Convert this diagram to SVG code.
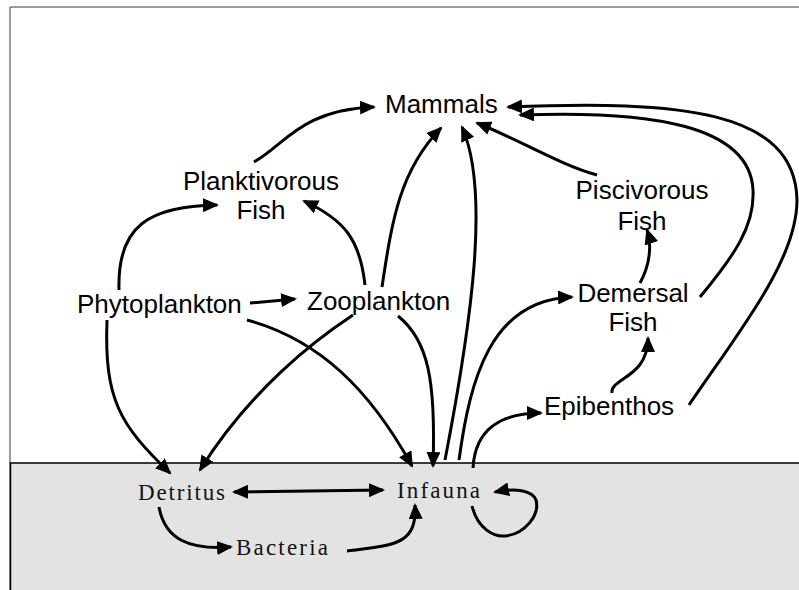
<svg xmlns="http://www.w3.org/2000/svg" width="799" height="590" viewBox="0 0 799 590">
<style>
.lbl{font-family:"Liberation Sans",Arial,sans-serif;font-size:26px;fill:#000}
.ben{font-family:"Liberation Serif","Times New Roman",serif;font-size:23px;fill:#111}
.c{fill:none;stroke:#000;stroke-width:3}
</style>
<defs>
<marker id="ah" markerUnits="userSpaceOnUse" markerWidth="16" markerHeight="14" viewBox="0 0 16 14" refX="14" refY="7" orient="auto-start-reverse">
<path d="M0,0 L16,7 L0,14 z" fill="#000"/>
</marker>
</defs>
<rect x="0" y="0" width="799" height="590" fill="#fff"/>
<g id="frame">
<line x1="10" y1="7" x2="799" y2="7" stroke="#7a7a7a" stroke-width="1.5"/>
<line x1="10" y1="7" x2="10" y2="590" stroke="#7a7a7a" stroke-width="1.5"/>
<rect x="10.5" y="463" width="790" height="130" fill="#e3e3e3" stroke="#000" stroke-width="1.5"/>
</g>
<g id="connectors">
<path class="c" marker-end="url(#ah)" d="M254,162 C285,145 300,110 374,107"/>
<path class="c" marker-end="url(#ah)" d="M119,290 C117,225 150,206 217,205"/>
<path class="c" marker-end="url(#ah)" d="M365,285 C360,240 345,220 304,201"/>
<path class="c" marker-end="url(#ah)" d="M382,287 C392,220 400,170 441,128"/>
<path class="c" marker-end="url(#ah)" d="M445,460 C472,320 490,190 462,127"/>
<path class="c" marker-end="url(#ah)" d="M597,175 C560,165 520,140 477,123"/>
<path class="c" marker-end="url(#ah)" d="M700,297 C735,255 755,225 753,190 C750,125 650,110 520,115"/>
<path class="c" marker-end="url(#ah)" d="M689,405 C740,330 797,260 797,200 C795,110 680,100 508,107"/>
<path class="c" marker-end="url(#ah)" d="M640,283 C650,265 652,245 647,230"/>
<path class="c" marker-end="url(#ah)" d="M612,393 C610,378 648,378 648,338"/>
<path class="c" marker-end="url(#ah)" d="M250,303 L295,299"/>
<path class="c" marker-end="url(#ah)" d="M247,320 C320,340 370,390 412,466"/>
<path class="c" marker-end="url(#ah)" d="M353,315 C315,340 250,390 200,470"/>
<path class="c" marker-end="url(#ah)" d="M398,316 C428,340 436,380 433,466"/>
<path class="c" marker-end="url(#ah)" d="M107,320 C104,400 120,425 170,473"/>
<path class="c" marker-start="url(#ah)" marker-end="url(#ah)" d="M234,492 L383,490"/>
<path class="c" marker-end="url(#ah)" d="M159,507 C165,540 190,550 231,547"/>
<path class="c" marker-end="url(#ah)" d="M347,551 C395,545 417,545 415,505"/>
<path class="c" marker-end="url(#ah)" d="M459,460 C470,380 490,300 572,297"/>
<path class="c" marker-end="url(#ah)" d="M473,468 C475,430 500,413 541,413"/>
<path class="c" marker-end="url(#ah)" d="M472,506 C478,530 495,537 505,536 C525,534 540,515 536,500 C532,490 515,488 495,492"/>
</g>
<g id="mammals"><text class="lbl" x="385" y="113">Mammals</text></g>
<g id="planktivorous"><text class="lbl" x="261" y="190" text-anchor="middle">Planktivorous</text><text class="lbl" x="261" y="219" text-anchor="middle">Fish</text></g>
<g id="phytoplankton"><text class="lbl" x="77" y="313">Phytoplankton</text></g>
<g id="zooplankton"><text class="lbl" x="307" y="310">Zooplankton</text></g>
<g id="piscivorous"><text class="lbl" x="642" y="199" text-anchor="middle">Piscivorous</text><text class="lbl" x="642" y="230" text-anchor="middle">Fish</text></g>
<g id="demersal"><text class="lbl" x="633" y="302" text-anchor="middle">Demersal</text><text class="lbl" x="633" y="331" text-anchor="middle">Fish</text></g>
<g id="epibenthos"><text class="lbl" x="544" y="415">Epibenthos</text></g>
<g id="detritus"><text class="ben" x="138" y="500" textLength="87" lengthAdjust="spacing">Detritus</text></g>
<g id="infauna"><text class="ben" x="397" y="498" textLength="83" lengthAdjust="spacing">Infauna</text></g>
<g id="bacteria"><text class="ben" x="236" y="555" textLength="92" lengthAdjust="spacing">Bacteria</text></g>
</svg>
